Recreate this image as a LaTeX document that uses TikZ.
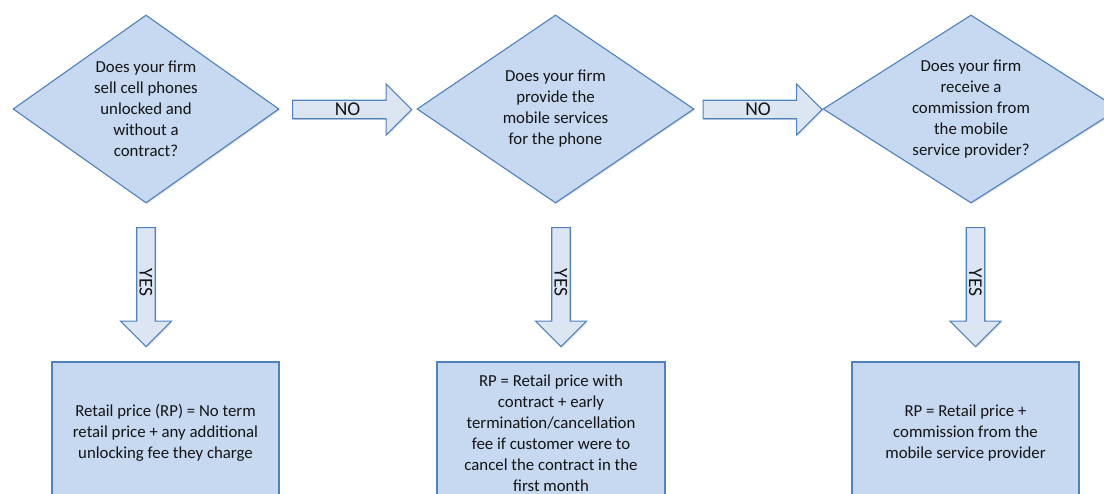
\documentclass[tikz,border=0pt]{standalone}
\usepackage{fontspec}
\setmainfont{Carlito}
\usetikzlibrary{shapes.geometric,shapes.arrows,shadows}
\definecolor{shapefill}{HTML}{C6D9F1}
\definecolor{shapeline}{HTML}{4F81BD}
\definecolor{arrowfill}{HTML}{DCE6F2}
\definecolor{textcol}{HTML}{141414}
\tikzset{
  txt/.style={text=textcol, font=\fontsize{16.8}{21}\selectfont},
  base/.style={draw=shapeline, line width=1.1pt, txt,
    drop shadow={opacity=0.25, shadow xshift=1.2pt, shadow yshift=-1.2pt}},
  question/.style={base, diamond, fill=shapefill, inner sep=0pt, minimum height=188pt},
  qtext/.style={txt, align=center, inner sep=0pt},
  result/.style={base, rectangle, fill=shapefill, align=center, minimum height=142pt},
  blockarrow/.style={base, single arrow, fill=arrowfill, single arrow head extend=13pt,
    single arrow head indent=0pt, minimum height=119pt, minimum width=51pt, inner sep=0.5pt,
    font=\fontsize{19.5}{21}\selectfont}
}
\begin{document}
\begin{tikzpicture}[x=1pt,y=-1pt]
\useasboundingbox (0,0) rectangle (1104,494);
\node[question, minimum width=266pt,
  label={[qtext, name=q1t]center:Does your firm\\sell cell phones\\unlocked and\\without a\\contract?}] (q1) at (146,109) {};
\node[question, minimum width=277pt,
  label={[qtext, name=q2t]center:Does your firm\\provide the\\mobile services\\for the phone}] (q2) at (555.5,109) {};
\node[question, minimum width=296pt,
  label={[qtext, name=q3t]center:Does your firm\\receive a\\commission from\\the mobile\\service provider?}] (q3) at (971,109) {};

\node[blockarrow] (no1) at (347.5,109.5) {NO};
\node[blockarrow] (no2) at (758,109.5) {NO};

\node[blockarrow, rotate=-90] (yes1) at (146,282.5) {YES};
\node[blockarrow, rotate=-90] (yes2) at (561,282.5) {YES};
\node[blockarrow, rotate=-90] (yes3) at (975.5,282.5) {YES};

\node[result, minimum width=227pt] (r1) at (165.5,433) {Retail price (RP) = No term\\retail price + any additional\\unlocking fee they charge};
\node[result, minimum width=228pt] (r2) at (551,433) {RP = Retail price with\\contract + early\\termination/cancellation\\fee if customer were to\\cancel the contract in the\\first month};
\node[result, minimum width=227pt] (r3) at (965.5,433) {RP = Retail price +\\commission from the\\mobile service provider};
\end{tikzpicture}
\end{document}
